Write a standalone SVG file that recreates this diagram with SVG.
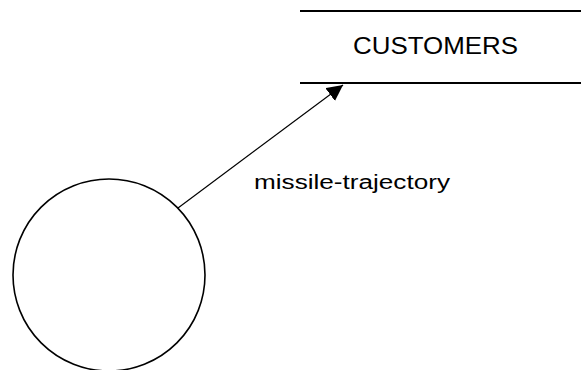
<svg xmlns="http://www.w3.org/2000/svg" width="581" height="370" viewBox="0 0 581 370">
<style>
.edge{stroke:#000;stroke-width:1.2;fill:none}
.store{stroke:#000;stroke-width:1.8;fill:none}
.proc{stroke:#000;stroke-width:1.6;fill:#fff}
.lbl{font-family:"Liberation Sans",Arial,sans-serif;fill:#000}
</style>
<defs>
<marker id="ah" markerWidth="16" markerHeight="16" refX="16" refY="8" orient="auto" markerUnits="userSpaceOnUse">
<path d="M0,0 L16,8 L0,16 Z" fill="#000"/>
</marker>
</defs>
<rect width="581" height="370" fill="#fff"/>
<g id="customers">
<line class="store" x1="300" y1="11" x2="581" y2="11"/>
<line class="store" x1="300" y1="83" x2="581" y2="83"/>
<text class="lbl" x="353" y="54" font-size="23" textLength="165" lengthAdjust="spacingAndGlyphs">CUSTOMERS</text>
</g>
<g id="process">
<circle class="proc" cx="109" cy="275" r="96"/>
</g>
<g id="connectors">
<line class="edge" x1="178" y1="208" x2="343" y2="85" marker-end="url(#ah)"/>
<text class="lbl" x="254" y="189" font-size="20" textLength="196" lengthAdjust="spacingAndGlyphs">missile-trajectory</text>
</g>
</svg>
